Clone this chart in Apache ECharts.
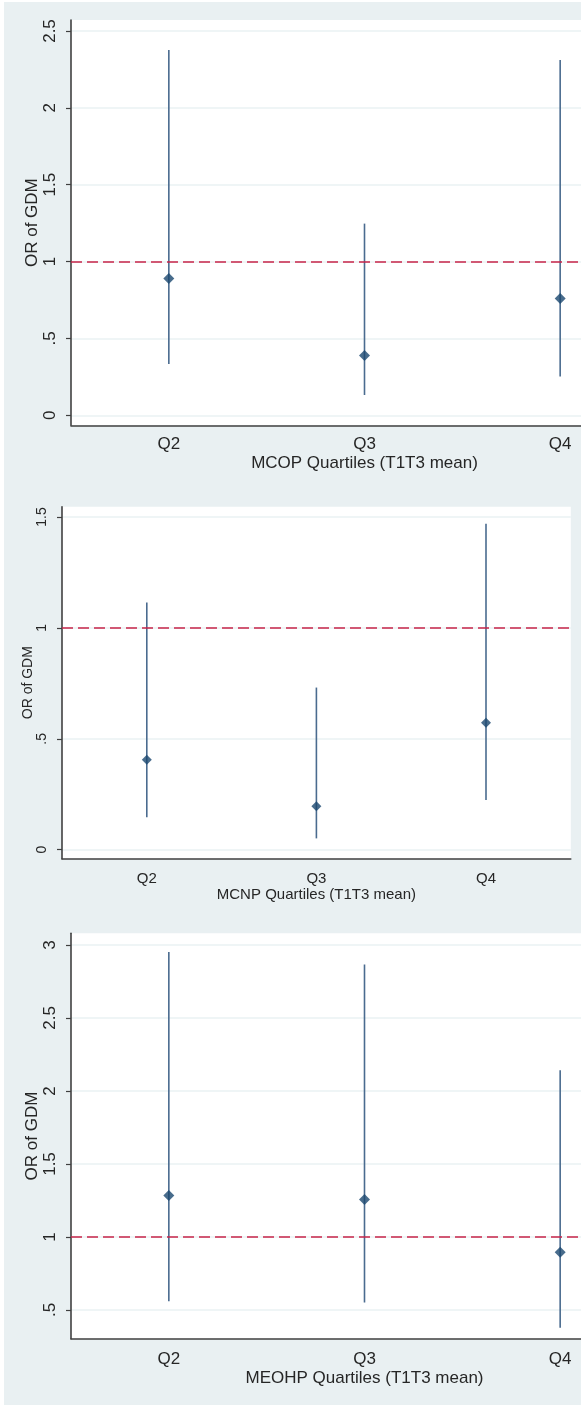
<!DOCTYPE html>
<html>
<head>
<meta charset="utf-8">
<script src="https://cdn.jsdelivr.net/npm/echarts@6/dist/echarts.min.js"></script>
<style>
html,body{margin:0;padding:0;background:#fff;}
#c{width:581px;height:1405px;}
</style>
</head>
<body>
<div id="c"></div>
<script>
// ---- data ----
const categories = ['Q2', 'Q3', 'Q4'];
const xTitles = ['MCOP Quartiles (T1T3 mean)', 'MCNP Quartiles (T1T3 mean)', 'MEOHP Quartiles (T1T3 mean)'];
const yTitle = 'OR of GDM';

const mcopOR = [0.890, 0.389, 0.760];
const mcopLo = [0.334, 0.132, 0.252];
const mcopHi = [2.377, 1.247, 2.312];

const mcnpOR = [0.405, 0.196, 0.572];
const mcnpLo = [0.146, 0.051, 0.224];
const mcnpHi = [1.115, 0.731, 1.470];

const meohpOR = [1.284, 1.256, 0.895];
const meohpLo = [0.560, 0.551, 0.379];
const meohpHi = [2.952, 2.866, 2.142];

const yTicks1 = [0, 0.5, 1, 1.5, 2, 2.5];
const yTicks2 = [0, 0.5, 1, 1.5];
const yTicks3 = [0.5, 1, 1.5, 2, 2.5, 3];
const refValue = 1;

// ---- styles ----
const BG = '#e9f0f2';
const GRIDLINE = '#eaf2f3';
const AXIS = '#404040';
const TEXT = '#262626';
const BAR = '#4a6b8f';
const MARK = '#1a476f';
const REF = '#c8244a';
const FONT = '"Liberation Sans", Arial, sans-serif';

const panels = [
  {or: mcopOR, lo: mcopLo, hi: mcopHi, ticks: yTicks1, min: -0.065, max: 2.5716,
   grid: {left: 71, top: 20, height: 405.3, width: 587}, s: 1,
   yNameGap: 30, yLabMargin: 12, xLabMargin: 11, xNameGap: 30},
  {or: mcnpOR, lo: mcnpLo, hi: mcnpHi, ticks: yTicks2, min: -0.0406, max: 1.5464,
   grid: {left: 62, top: 506.7, height: 352, width: 508.8}, s: 0.87,
   yNameGap: 27, yLabMargin: 13, xLabMargin: 13, xNameGap: 29},
  {or: meohpOR, lo: meohpLo, hi: meohpHi, ticks: yTicks3, min: 0.3034, max: 3.080,
   grid: {left: 71, top: 933.3, height: 405.4, width: 587}, s: 1,
   yNameGap: 30, yLabMargin: 12, xLabMargin: 12, xNameGap: 31}
];

function fmt(v) {
  if (v === 0) return '0';
  let s = String(Math.round(v * 100) / 100);
  if (s.startsWith('0.')) s = s.slice(1);
  return s;
}

const grids = [], xAxes = [], yAxes = [], series = [];
panels.forEach((p, i) => {
  grids.push(Object.assign({show: true, backgroundColor: '#ffffff', borderWidth: 0,
    containLabel: false, outerBoundsMode: 'none'}, p.grid));
  xAxes.push({
    type: 'category', gridIndex: i, data: categories, boundaryGap: true,
    axisLine: {onZero: false, lineStyle: {color: AXIS, width: 1.6}},
    axisTick: {alignWithLabel: true, length: 4, lineStyle: {color: AXIS, width: 1.2}},
    axisLabel: {color: TEXT, fontFamily: FONT, fontSize: Math.round(17 * p.s), margin: p.xLabMargin},
    splitLine: {show: false},
    name: xTitles[i], nameLocation: 'middle', nameGap: p.xNameGap, nameMoveOverlap: false,
    nameTextStyle: {color: TEXT, fontFamily: FONT, fontSize: Math.round(17 * p.s)}
  });
  yAxes.push({
    type: 'value', gridIndex: i, min: p.min, max: p.max,
    axisLine: {show: true, onZero: false, lineStyle: {color: AXIS, width: 1.6}},
    axisTick: {show: true, length: 5, customValues: p.ticks, lineStyle: {color: AXIS, width: 1.2}},
    axisLabel: {customValues: p.ticks, rotate: 90, formatter: fmt, color: TEXT, fontFamily: FONT,
      fontSize: Math.round(16.5 * p.s), margin: p.yLabMargin},
    splitLine: {show: true, lineStyle: {color: GRIDLINE, width: 1.5}},
    name: yTitle, nameLocation: 'middle', nameGap: p.yNameGap, nameMoveOverlap: false,
    nameTextStyle: {color: TEXT, fontFamily: FONT, fontSize: Math.round(16.5 * p.s)}
  });
  // reference line at OR = 1
  series.push({
    type: 'line', xAxisIndex: i, yAxisIndex: i, data: [], z: 1, silent: true,
    markLine: {
      silent: true, symbol: ['none', 'none'], animation: false, label: {show: false},
      lineStyle: {type: [11, 5], color: REF, width: 1.6},
      data: [{yAxis: refValue}]
    }
  });
  // confidence intervals
  series.push({
    type: 'custom', xAxisIndex: i, yAxisIndex: i, z: 2, silent: true,
    data: categories.map((c, k) => [k, p.lo[k], p.hi[k]]),
    renderItem: function (params, api) {
      const x = api.value(0);
      const a = api.coord([x, api.value(1)]);
      const b = api.coord([x, api.value(2)]);
      return {type: 'line', shape: {x1: a[0], y1: a[1], x2: b[0], y2: b[1]},
        style: {stroke: BAR, lineWidth: 1.6}};
    }
  });
  // point estimates
  series.push({
    type: 'scatter', xAxisIndex: i, yAxisIndex: i, z: 3, silent: true,
    symbol: 'diamond', symbolSize: Math.round(11 * p.s),
    itemStyle: {color: MARK},
    data: p.or
  });
});

const chart = echarts.init(document.getElementById('c'), null, {renderer: 'canvas'});
chart.setOption({
  animation: false,
  backgroundColor: BG,
  graphic: [
    {type: 'rect', left: 0, top: 0, shape: {width: 4, height: 1405}, style: {fill: '#ffffff'}, z: -10},
    {type: 'rect', left: 0, top: 0, shape: {width: 581, height: 2}, style: {fill: '#ffffff'}, z: -10}
  ],
  grid: grids, xAxis: xAxes, yAxis: yAxes, series: series
});
</script>
</body>
</html>
